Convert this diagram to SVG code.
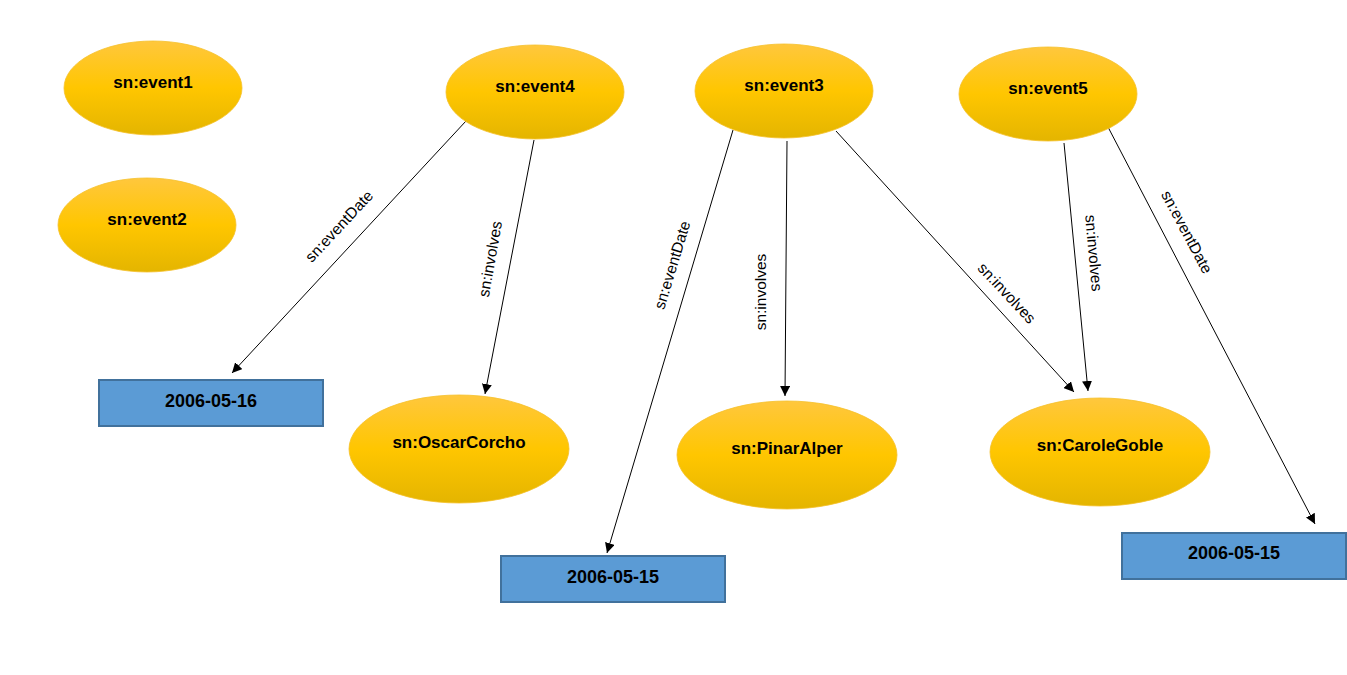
<svg xmlns="http://www.w3.org/2000/svg" width="1347" height="675" viewBox="0 0 1347 675">
<defs>
<linearGradient id="gold" x1="0" y1="0" x2="0" y2="1">
<stop offset="0" stop-color="#FFC73D"/>
<stop offset="0.5" stop-color="#FFC600"/>
<stop offset="1" stop-color="#E4B500"/>
</linearGradient>
<marker id="arr" viewBox="0 0 10 10" refX="10" refY="5" markerWidth="10" markerHeight="10" markerUnits="userSpaceOnUse" orient="auto">
<path d="M0,0 L10,5 L0,10 z" fill="#000"/>
</marker>
</defs>
<style>
.ell{fill:url(#gold);stroke:#F5C02A;stroke-width:0.8}
.box{fill:#5B9BD5;stroke:#41719C;stroke-width:2}
.nt{font-family:"Liberation Sans",Arial,sans-serif;font-weight:bold;font-size:17px;fill:#000;text-anchor:middle;dominant-baseline:central}
.dt{font-size:18px}
.el{font-family:"Liberation Sans",Arial,sans-serif;font-size:15.5px;fill:#000;text-anchor:middle;dominant-baseline:central}
.cn{stroke:#000;stroke-width:1;fill:none;marker-end:url(#arr)}
</style>
<rect width="1347" height="675" fill="#fff"/>
<g id="connectors">
<line class="cn" x1="466" y1="121" x2="232" y2="373"/>
<line class="cn" x1="534" y1="140" x2="485" y2="394"/>
<line class="cn" x1="733" y1="130" x2="607" y2="553"/>
<line class="cn" x1="787" y1="141" x2="785" y2="396"/>
<line class="cn" x1="836" y1="131" x2="1074" y2="392"/>
<line class="cn" x1="1064" y1="143" x2="1088" y2="391"/>
<line class="cn" x1="1108" y1="127" x2="1315" y2="524"/>
<text class="el" transform="translate(339,226) rotate(-47)">sn:eventDate</text>
<text class="el" transform="translate(490,259) rotate(-80)">sn:involves</text>
<text class="el" transform="translate(672,265) rotate(-73)">sn:eventDate</text>
<text class="el" transform="translate(760,292) rotate(-90)">sn:involves</text>
<text class="el" transform="translate(1007,293) rotate(47)">sn:involves</text>
<text class="el" transform="translate(1094,253) rotate(85)">sn:involves</text>
<text class="el" transform="translate(1187,232) rotate(62)">sn:eventDate</text>
</g>
<g id="event1"><ellipse class="ell" cx="153" cy="88" rx="89" ry="47"/><text class="nt" x="153" y="82">sn:event1</text></g>
<g id="event2"><ellipse class="ell" cx="147" cy="225" rx="89" ry="47"/><text class="nt" x="147" y="219">sn:event2</text></g>
<g id="event4"><ellipse class="ell" cx="535" cy="92" rx="89" ry="47"/><text class="nt" x="535" y="86">sn:event4</text></g>
<g id="event3"><ellipse class="ell" cx="784" cy="91" rx="89" ry="47"/><text class="nt" x="784" y="85">sn:event3</text></g>
<g id="event5"><ellipse class="ell" cx="1048" cy="94" rx="89" ry="47"/><text class="nt" x="1048" y="88">sn:event5</text></g>
<g id="OscarCorcho"><ellipse class="ell" cx="459" cy="449" rx="110" ry="54"/><text class="nt" x="459" y="442">sn:OscarCorcho</text></g>
<g id="PinarAlper"><ellipse class="ell" cx="787" cy="455" rx="110" ry="54"/><text class="nt" x="787" y="448">sn:PinarAlper</text></g>
<g id="CaroleGoble"><ellipse class="ell" cx="1100" cy="452" rx="110" ry="54"/><text class="nt" x="1100" y="445">sn:CaroleGoble</text></g>
<g id="date1"><rect class="box" x="99" y="380" width="224" height="46"/><text class="nt dt" x="211" y="401">2006-05-16</text></g>
<g id="date2"><rect class="box" x="501" y="556" width="224" height="46"/><text class="nt dt" x="613" y="577">2006-05-15</text></g>
<g id="date3"><rect class="box" x="1122" y="533" width="224" height="46"/><text class="nt dt" x="1234" y="553">2006-05-15</text></g>
</svg>
